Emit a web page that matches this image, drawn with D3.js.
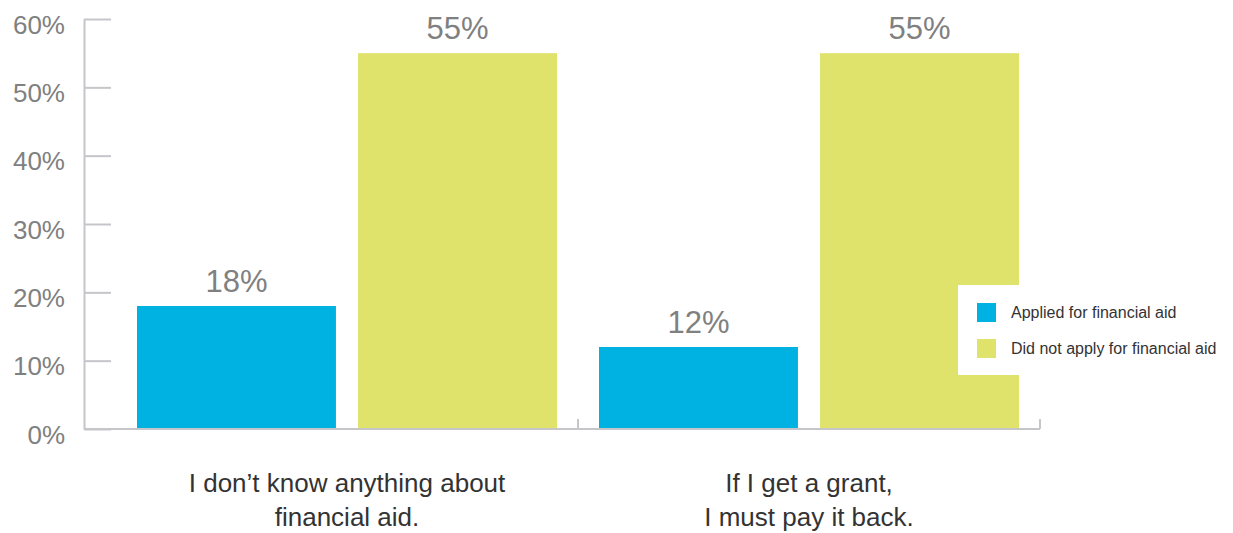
<!DOCTYPE html>
<html>
<head>
<meta charset="utf-8">
<script src="https://cdn.jsdelivr.net/npm/d3@7"></script>
<style>
  body { margin: 0; background: #fff; }
  svg { display: block; font-family: "Liberation Sans", Arial, Helvetica, sans-serif; }
</style>
</head>
<body>
<svg id="chart" width="1233" height="533"></svg>
<script>
// chart data
const categories = [
  ['I don\u2019t know anything about', 'financial aid.'],
  ['If I get a grant,', 'I must pay it back.']
];
const seriesNames = ['Applied for financial aid', 'Did not apply for financial aid'];
const applied = [18, 12];
const notApplied = [55, 55];
const yTicks = [0, 10, 20, 30, 40, 50, 60];

const colors = ['#00b2e2', '#dfe36b'];

const svg = d3.select('#chart');

// scales
const y = d3.scaleLinear().domain([0, 60]).range([429, 19]);

const catKeys = categories.map((c, i) => i);
const x0 = d3.scaleBand()
  .domain(catKeys)
  .range([116, 1040])
  .paddingInner(42 / 462)
  .paddingOuter(21 / 462);

const x1 = d3.scaleBand()
  .domain([0, 1])
  .range([0, x0.bandwidth()])
  .paddingInner(0.1)
  .paddingOuter(0);

const axisLeftX = 84;
const gap = x0.step() - x0.bandwidth();
const axisRightX = x0(catKeys[catKeys.length - 1]) + x0.bandwidth() + gap / 2;

// bars
const groups = svg.selectAll('g.group')
  .data(catKeys)
  .enter().append('g')
  .attr('class', 'group')
  .attr('transform', d => `translate(${x0(d)},0)`);

groups.selectAll('rect')
  .data(d => [applied[d], notApplied[d]].map((v, s) => ({v, s})))
  .enter().append('rect')
  .attr('x', d => x1(d.s))
  .attr('width', x1.bandwidth())
  .attr('y', d => y(d.v))
  .attr('height', d => y(0) - y(d.v))
  .attr('fill', d => colors[d.s]);

groups.selectAll('text.val')
  .data(d => [applied[d], notApplied[d]].map((v, s) => ({v, s})))
  .enter().append('text')
  .attr('class', 'val')
  .attr('x', d => x1(d.s) + x1.bandwidth() / 2)
  .attr('y', d => y(d.v) - 14)
  .attr('text-anchor', 'middle')
  .attr('font-size', 31)
  .attr('fill', '#808080')
  .text(d => d.v + '%');

// y axis
const yAxis = d3.axisLeft(y)
  .tickValues(yTicks)
  .tickSizeInner(-27)
  .tickSizeOuter(0)
  .tickPadding(19)
  .tickFormat(d => d + '%');

const gy = svg.append('g')
  .attr('transform', `translate(${axisLeftX},0)`)
  .call(yAxis);
gy.select('.domain').attr('stroke', '#c6c6ca').attr('stroke-width', 2);
gy.selectAll('.tick line').attr('stroke', '#c6c6ca').attr('stroke-width', 2);
gy.selectAll('.tick text')
  .attr('font-size', 26)
  .attr('fill', '#808080')
  .attr('dy', '0.54em')
  .attr('font-family', '"Liberation Sans", Arial, sans-serif');

// x axis
const gx = svg.append('g').attr('class', 'x axis');
gx.append('line')
  .attr('x1', axisLeftX).attr('x2', axisRightX)
  .attr('y1', y(0)).attr('y2', y(0))
  .attr('stroke', '#c6c6ca').attr('stroke-width', 2);

const boundaries = catKeys.map(k => x0(k) + x0.bandwidth() + gap / 2);
gx.selectAll('line.tick')
  .data(boundaries)
  .enter().append('line')
  .attr('class', 'tick')
  .attr('x1', d => d).attr('x2', d => d)
  .attr('y1', y(0)).attr('y2', y(0) - 10)
  .attr('stroke', '#c6c6ca').attr('stroke-width', 2);

// category labels
const labels = svg.selectAll('text.cat')
  .data(catKeys)
  .enter().append('text')
  .attr('class', 'cat')
  .attr('text-anchor', 'middle')
  .attr('font-size', 26)
  .attr('fill', '#333');

labels.selectAll('tspan')
  .data(d => categories[d].map(line => ({line, d})))
  .enter().append('tspan')
  .attr('x', d => x0(d.d) + x0.bandwidth() / 2)
  .attr('y', (d, i) => 492 + i * 34)
  .text(d => d.line);

// legend
const legend = svg.append('g').attr('transform', 'translate(958,285)');
legend.append('rect')
  .attr('width', 275).attr('height', 90)
  .attr('fill', '#fff');

const items = legend.selectAll('g.item')
  .data(seriesNames)
  .enter().append('g')
  .attr('class', 'item')
  .attr('transform', (d, i) => `translate(19,${18 + i * 36})`);

items.append('rect')
  .attr('width', 19).attr('height', 19)
  .attr('fill', (d, i) => colors[i]);

items.append('text')
  .attr('x', 34)
  .attr('y', 15)
  .attr('font-size', 16)
  .attr('fill', '#333')
  .text(d => d);
</script>
</body>
</html>
